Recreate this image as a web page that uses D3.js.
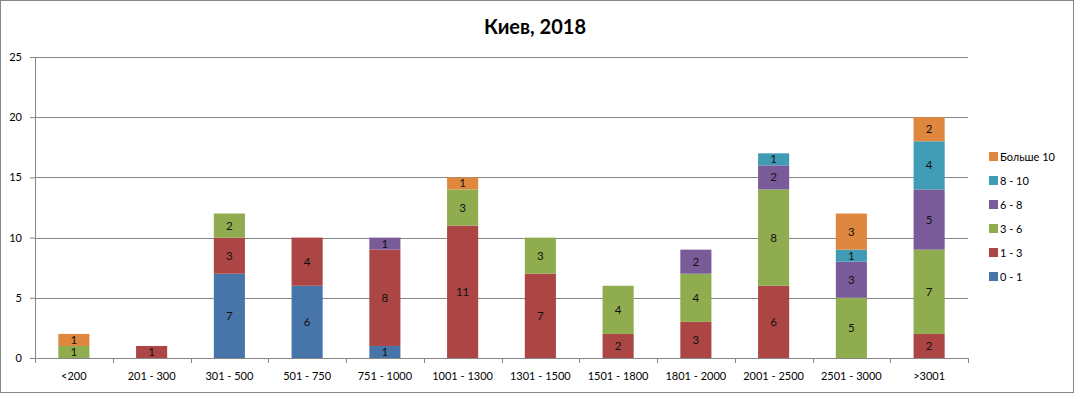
<!DOCTYPE html>
<html>
<head>
<meta charset="utf-8">
<script src="https://cdn.jsdelivr.net/npm/d3@7"></script>
<style>
  body { margin: 0; background: #fff; }
  svg { display: block; font-family: Lato, "Open Sans", sans-serif; }
</style>
</head>
<body>
<div id="chart"></div>
<script>
// Data
var categories = ["<200", "201 - 300", "301 - 500", "501 - 750", "751 - 1000", "1001 - 1300",
    "1301 - 1500", "1501 - 1800", "1801 - 2000", "2001 - 2500", "2501 - 3000", ">3001"];
var seriesNames = ["0 - 1", "1 - 3", "3 - 6", "6 - 8", "8 - 10", "Больше 10"];
var s0_1   = [0, 0, 7, 6, 1, 0, 0, 0, 0, 0, 0, 0];
var s1_3   = [0, 1, 3, 4, 8, 11, 7, 2, 3, 6, 0, 2];
var s3_6   = [1, 0, 2, 0, 0, 3, 3, 4, 4, 8, 5, 7];
var s6_8   = [0, 0, 0, 0, 1, 0, 0, 0, 2, 2, 3, 5];
var s8_10  = [0, 0, 0, 0, 0, 0, 0, 0, 0, 1, 1, 4];
var sOver10 = [1, 0, 0, 0, 0, 1, 0, 0, 0, 0, 3, 2];
var yTicks = [0, 5, 10, 15, 20, 25];
var colors = ["#4775AA", "#AB4644", "#8FAC4F", "#7A5B9A", "#409BB4", "#E0873F"];

var svgWidth = 1075, svgHeight = 394;
var margin = {top: 57, left: 35, right: 107, bottom: 36};
var width = svgWidth - margin.left - margin.right;
var height = svgHeight - margin.top - margin.bottom;

var allSeries = [s0_1, s1_3, s3_6, s6_8, s8_10, sOver10];
var rows = categories.map(function(c, i) {
    var r = {cat: c};
    seriesNames.forEach(function(n, k) { r[n] = allSeries[k][i]; });
    return r;
});
var stacked = d3.stack().keys(seriesNames)(rows);

var svg = d3.select("#chart").append("svg")
    .attr("width", svgWidth)
    .attr("height", svgHeight);

// outer frame
svg.append("rect")
    .attr("x", 0.5).attr("y", 0.5)
    .attr("width", svgWidth - 2).attr("height", svgHeight - 2)
    .attr("fill", "none").attr("stroke", "#868686");

svg.append("text")
    .attr("x", 535).attr("y", 34)
    .attr("text-anchor", "middle")
    .style("font-size", "20px").style("font-weight", "bold")
    .text("Киев, 2018");

var chartGroup = svg.append("g")
    .attr("transform", `translate(${margin.left}, ${margin.top})`);

var xScale = d3.scaleBand().domain(categories).range([0, width]).paddingInner(0.6).paddingOuter(0.3);
var xOuter = d3.scaleBand().domain(categories).range([0, width]);
var yScale = d3.scaleLinear().domain([0, 25]).range([height, 0]);

// gridlines
chartGroup.append("g").selectAll("line")
    .data(yTicks.filter(d => d > 0))
    .enter().append("line")
    .attr("x1", 0).attr("x2", width)
    .attr("y1", d => Math.round(yScale(d)) + 0.5)
    .attr("y2", d => Math.round(yScale(d)) + 0.5)
    .attr("stroke", "#868686");

// bars
var layers = chartGroup.selectAll(".layer")
    .data(stacked).enter().append("g")
    .attr("fill", (d, i) => colors[i]);

layers.selectAll("rect")
    .data(d => d.map(p => ({p: p, key: d.key})))
    .enter().append("rect")
    .filter(d => d.p[1] - d.p[0] > 0)
    .attr("x", d => xScale(d.p.data.cat))
    .attr("width", xScale.bandwidth())
    .attr("y", d => yScale(d.p[1]))
    .attr("height", d => yScale(d.p[0]) - yScale(d.p[1]));

layers.selectAll("text")
    .data(d => d.filter(p => p[1] - p[0] > 0))
    .enter().append("text")
    .attr("x", d => xScale(d.data.cat) + xScale.bandwidth() / 2)
    .attr("y", d => (yScale(d[0]) + yScale(d[1])) / 2 + 4)
    .attr("text-anchor", "middle")
    .attr("fill", "#111")
    .style("font-size", "11.5px")
    .text(d => d[1] - d[0]);

// y axis
var leftAxis = d3.axisLeft(yScale).tickValues(yTicks).tickSize(5).tickPadding(8);
var yAxis = chartGroup.append("g").call(leftAxis);
yAxis.select(".domain").attr("stroke", "#868686");
yAxis.selectAll(".tick line").attr("stroke", "#868686");
yAxis.selectAll("text").style("font-size", "11px").style("font-family", "Lato, sans-serif").attr("fill", "#000");

// x axis
var bottom = chartGroup.append("g").attr("transform", `translate(0, ${height})`);
bottom.append("line").attr("x1", -5).attr("x2", width).attr("y1", 0.5).attr("y2", 0.5).attr("stroke", "#868686");
bottom.selectAll(".xt")
    .data(categories.concat(["end"]))
    .enter().append("line")
    .attr("x1", (d, i) => Math.round(i * xOuter.step()) + 0.5)
    .attr("x2", (d, i) => Math.round(i * xOuter.step()) + 0.5)
    .attr("y1", 0).attr("y2", 5)
    .attr("stroke", "#868686");
bottom.selectAll("text")
    .data(categories).enter().append("text")
    .attr("x", d => xOuter(d) + xOuter.bandwidth() / 2)
    .attr("y", 22)
    .attr("text-anchor", "middle")
    .style("font-size", "11px")
    .text(d => d);

// legend
var legendNames = seriesNames.slice().reverse();
var legend = svg.append("g").attr("transform", "translate(989, 152)");
var items = legend.selectAll("g").data(legendNames).enter().append("g")
    .attr("transform", (d, i) => `translate(0, ${i * 24})`);
items.append("rect").attr("width", 9).attr("height", 9)
    .attr("fill", d => colors[seriesNames.indexOf(d)]);
items.append("text").attr("x", 11).attr("y", 9)
    .style("font-size", "11px")
    .text(d => d);
</script>
</body>
</html>
